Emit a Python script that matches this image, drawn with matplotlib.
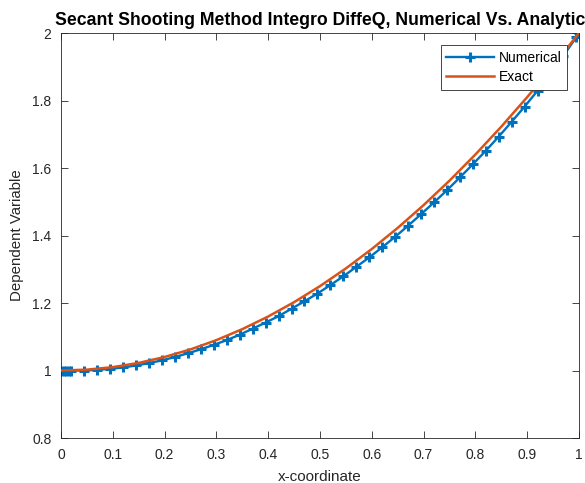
import matplotlib
matplotlib.use("Agg")
import matplotlib.pyplot as plt

# numerical solution (shooting method output)
x_num = [0.0, 0.005, 0.01, 0.015, 0.02, 0.045, 0.07, 0.095, 0.12, 0.145,
         0.17, 0.195, 0.22, 0.245, 0.27, 0.295, 0.32, 0.345, 0.37, 0.395,
         0.42, 0.445, 0.47, 0.495, 0.52, 0.545, 0.57, 0.595, 0.62, 0.645,
         0.67, 0.695, 0.72, 0.745, 0.77, 0.795, 0.82, 0.845, 0.87, 0.895,
         0.92, 0.945, 0.97, 0.995, 1.0]
y_num = [1.000, 1.000, 1.000, 1.000, 1.000, 1.000, 1.002, 1.005, 1.009, 1.015,
         1.022, 1.030, 1.040, 1.051, 1.063, 1.076, 1.090, 1.106, 1.124, 1.142,
         1.161, 1.183, 1.205, 1.228, 1.253, 1.279, 1.307, 1.335, 1.365, 1.396,
         1.429, 1.463, 1.498, 1.534, 1.572, 1.611, 1.651, 1.693, 1.737, 1.782,
         1.829, 1.879, 1.933, 1.988, 2.000]

# exact solution
x_exact = [0.0, 0.05, 0.1, 0.15, 0.2, 0.25, 0.3, 0.35, 0.4, 0.45, 0.5,
           0.55, 0.6, 0.65, 0.7, 0.75, 0.8, 0.85, 0.9, 0.95, 1.0]
y_exact = [1.0, 1.0025, 1.01, 1.0225, 1.04, 1.0625, 1.09, 1.1225, 1.16, 1.2025, 1.25,
           1.3025, 1.36, 1.4225, 1.49, 1.5625, 1.64, 1.7225, 1.81, 1.9025, 2.0]

x_ticks = [0, 0.1, 0.2, 0.3, 0.4, 0.5, 0.6, 0.7, 0.8, 0.9, 1]
x_labels = ['0', '0.1', '0.2', '0.3', '0.4', '0.5', '0.6', '0.7', '0.8', '0.9', '1']
y_ticks = [0.8, 1.0, 1.2, 1.4, 1.6, 1.8, 2.0]
y_labels = ['0.8', '1', '1.2', '1.4', '1.6', '1.8', '2']

plt.rcParams['font.family'] = ['Liberation Sans', 'DejaVu Sans']

fig = plt.figure(figsize=(5.85, 4.83), dpi=100)
ax = fig.add_axes([61 / 585, 1 - 438 / 483, 518 / 585, 405 / 483])

ax.plot(x_num, y_num, color='#0072BD', linewidth=1.7, marker='+',
        markersize=6.5, markeredgewidth=2.2, label='Numerical', zorder=2)
ax.plot(x_exact, y_exact, color='#D95319', linewidth=1.8, label='Exact', zorder=3)

ax.set_xlim(0, 1)
ax.set_ylim(0.8, 2)
ax.set_xticks(x_ticks)
ax.set_xticklabels(x_labels)
ax.set_yticks(y_ticks)
ax.set_yticklabels(y_labels)
ax.tick_params(direction='in', top=True, right=True, length=5, width=0.6,
               labelsize=10, colors='#262626')
ax.tick_params(axis='x', pad=7)
ax.tick_params(axis='y', pad=7)
for s in ax.spines.values():
    s.set_linewidth(0.6)
    s.set_color('#262626')

ax.set_xlabel('x-coordinate', fontsize=11, color='#262626', labelpad=6)
ax.set_ylabel('Dependent Variable', fontsize=10.8, color='#262626', labelpad=6)
ax.set_title('Secant Shooting Method Integro DiffeQ, Numerical Vs. Analytic',
             fontsize=12.7, fontweight='bold', pad=6)

leg = ax.legend(loc='upper right', bbox_to_anchor=(1 - 12 / 518, 1 - 12 / 405),
                borderaxespad=0, fontsize=10, fancybox=False, framealpha=1,
                edgecolor='#262626', handlelength=3.4, handletextpad=0.35,
                labelspacing=0.4, borderpad=0.4)
leg.get_frame().set_linewidth(0.6)

fig.savefig('out.png', dpi=100)
